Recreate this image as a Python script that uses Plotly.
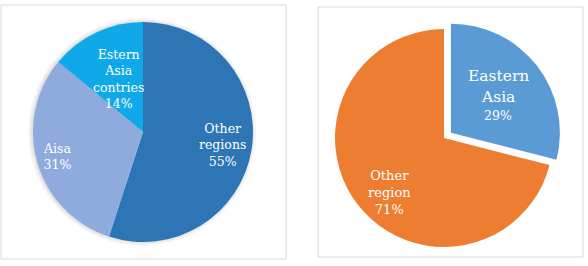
import math
import plotly.graph_objects as go

W, H = 588, 266

# Left chart data
left_labels = ["Other<br>regions", "Aisa", "Estern<br>Asia<br>contries"]
left_values = [55, 31, 14]
left_colors = ["#2E75B6", "#8FAADC", "#0FA9EA"]

# Right chart data
right_labels = ["Eastern<br>Asia", "Other<br>region"]
right_values = [29, 71]
right_colors = ["#5B9BD5", "#ED7D31"]
right_pull = [0.08, 0]

FONT = "DejaVu Serif"

# pie geometry (pixels) - style
L_CX, L_CY, L_R = 143, 132, 110
R_CX, R_CY, R_R = 444, 138, 109
left_label_frac = [0.73, 0.81, 0.53]
right_label_frac = [0.63, 0.71]
right_label_angle_adj = [0, -7]


def px_dom(cx, cy, half):
    return dict(x=[(cx - half) / W, (cx + half) / W],
                y=[(H - cy - half) / H, (H - cy + half) / H])


def label_positions(values, cx, cy, r, fracs, adj=None):
    tot = sum(values)
    pos, cum = [], 0
    for i, v in enumerate(values):
        mid = (cum + v / 2) / tot * 360 + (adj[i] if adj else 0)
        cum += v
        a = math.radians(mid)
        d = r * fracs[i]
        x = cx + d * math.sin(a)
        y = cy - d * math.cos(a)
        pos.append((x / W, (H - y) / H))
    return pos


fig = go.Figure()

fig.add_trace(go.Pie(
    labels=left_labels, values=left_values, sort=False, direction="clockwise",
    rotation=0, domain=px_dom(L_CX, L_CY, L_R),
    marker=dict(colors=left_colors, line=dict(width=0)),
    textinfo="none", showlegend=False, hoverinfo="skip",
))

fig.add_trace(go.Pie(
    labels=right_labels, values=right_values, sort=False, direction="clockwise",
    rotation=0, pull=right_pull, domain=px_dom(R_CX, R_CY, R_R * 1.08),
    marker=dict(colors=right_colors, line=dict(width=0)),
    textinfo="none", showlegend=False, hoverinfo="skip",
))

ann_base = dict(xref="paper", yref="paper", showarrow=False,
                xanchor="center", yanchor="middle", align="center")
annotations = []
tot = sum(left_values)
for (x, y), lab, v in zip(label_positions(left_values, L_CX, L_CY, L_R, left_label_frac),
                          left_labels, left_values):
    annotations.append(dict(
        ann_base, x=x, y=y, text=f"{lab}<br>{round(100 * v / tot)}%",
        font=dict(family=FONT, size=12.5, color="white")))

tot = sum(right_values)
rpos = label_positions(right_values, R_CX, R_CY, R_R, right_label_frac, right_label_angle_adj)
for i, ((x, y), lab, v) in enumerate(zip(rpos, right_labels, right_values)):
    if i == 0:
        parts = lab.split("<br>")
        for j, p in enumerate(parts):
            annotations.append(dict(
                ann_base, x=x, y=y + (19.5 - 21 * j) / H, text=p,
                font=dict(family=FONT, size=15.5, color="white")))
        annotations.append(dict(
            ann_base, x=x, y=y - 19.5 / H, text=f"{round(100 * v / tot)}%",
            font=dict(family=FONT, size=12.5, color="white")))
    else:
        annotations.append(dict(
            ann_base, x=x, y=y, text=f"{lab}<br>{round(100 * v / tot)}%",
            font=dict(family=FONT, size=13, color="white")))

box = dict(type="rect", xref="paper", yref="paper",
           line=dict(color="#DADADA", width=1), fillcolor="rgba(0,0,0,0)", layer="below")


def shadow(cx, cy, r, dx, dy):
    out = []
    for k, a in [(4, 0.03), (2.5, 0.04), (1, 0.05)]:
        out.append(dict(type="circle", xref="paper", yref="paper", layer="below",
                        x0=(cx + dx - r - k) / W, x1=(cx + dx + r + k) / W,
                        y0=(H - cy - dy - r - k) / H, y1=(H - cy - dy + r + k) / H,
                        line=dict(width=0), fillcolor=f"rgba(0,0,0,{a})"))
    return out


shapes = [
    dict(box, x0=1 / W, x1=286 / W, y0=(H - 259) / H, y1=(H - 5) / H),
    dict(box, x0=318 / W, x1=583 / W, y0=(H - 257) / H, y1=(H - 7) / H),
]
shapes += shadow(L_CX, L_CY, L_R, -1, 0)

fig.update_layout(
    width=W, height=H, margin=dict(l=0, r=0, t=0, b=0),
    paper_bgcolor="white", plot_bgcolor="white",
    shapes=shapes, annotations=annotations,
)

fig.write_html("out.html")
